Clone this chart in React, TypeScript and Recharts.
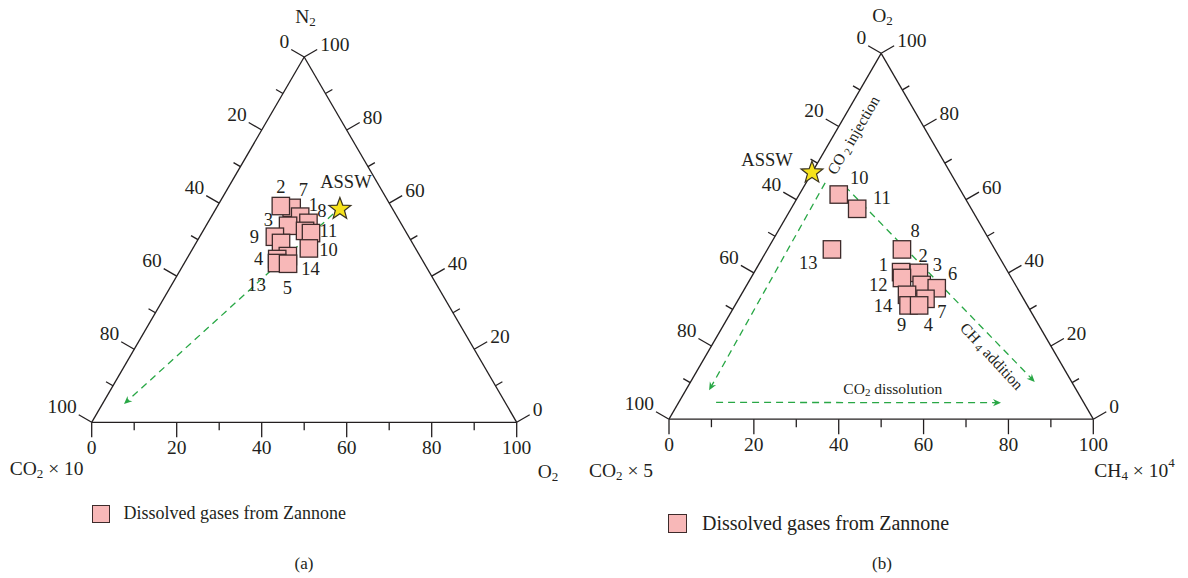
import React from 'react';
import { ScatterChart, Scatter, XAxis, YAxis, ReferenceLine, Legend } from 'recharts';

const INK = '#231f20';
const GREEN = '#28a745';
const PINK = '#f8b8b8';
const FONT = '"Liberation Serif", "DejaVu Serif", serif';
const SQ3 = Math.sqrt(3) / 2;

// (a) ternary CO2x10 / N2 / O2 (left, top, right vertex), percent
const labelsA = ['7', '2', '1', '8', '3', '12', '11', '9', '6', '10', '14', '4', '13', '5'];
const co2A = [23.6, 25.9, 22.8, 21.7, 26.9, 23.6, 22.5, 31.5, 30.9, 25.1, 31.1, 34.0, 34.6, 32.1];
const n2A = [58.7, 59.2, 56.3, 54.6, 53.8, 52.4, 51.8, 50.8, 49.1, 47.6, 45.5, 44.7, 43.6, 43.4];
const o2A = [17.7, 14.9, 20.9, 23.7, 19.3, 24.0, 25.7, 17.7, 20.0, 27.3, 23.4, 21.3, 21.8, 24.5];
const asswA = [12.4, 58.4, 29.2];
const trendA = [[14.7, 57.0, 28.3], [89.9, 5.0, 5.1]];

// (b) ternary CO2x5 / O2 / CH4x10^4
const labelsB = ['10', '11', '13', '8', '1', '2', '12', '3', '6', '9', '7', '14', '4'];
const co2B = [29.3, 26.9, 38.4, 21.9, 25.2, 21.1, 25.8, 22.1, 19.0, 26.9, 23.1, 28.0, 25.5];
const o2B = [61.4, 57.5, 46.4, 46.4, 40.2, 40.0, 38.6, 36.7, 35.8, 34.0, 32.9, 31.1, 31.1];
const ch4B = [9.3, 15.6, 15.2, 31.7, 34.6, 38.9, 35.6, 41.2, 45.2, 39.1, 44.0, 40.9, 43.4];
const asswB = [32.6, 67.4, 0];
const injectionB = [[30.9, 64.6, 4.5], [86.6, 7.9, 5.5]];
const ch4AdditionB = [[26.7, 63.7, 9.6], [8.7, 10.2, 81.1]];
const dissolutionB = [[86.6, 4.6, 8.8], [19.5, 4.5, 76.0]];

const scaleTicks = [0, 10, 20, 30, 40, 50, 60, 70, 80, 90, 100];

// label placement around each marker (px)
const offsetsA: Record<string, [number, number] | null> = {
  '2': [0, -19], '7': [11.6, -17.7], '1': [13.3, -11.7], '8': [13.4, -11.7], '3': [-19.7, -5.3],
  '11': [17.3, -2.3], '9': [-20.4, 0.5], '10': [19.6, 1.7], '4': [-18.7, 0], '13': [-20.3, 22],
  '14': [22.7, 13.3], '5': [-0.7, 24.6], '12': null, '6': null,
};
const offsetsB: Record<string, [number, number] | null> = {
  '10': [20.6, -17], '11': [24.7, -11], '13': [-23.7, 14], '8': [13.3, -18.3], '1': [-17.7, -7],
  '2': [4.3, -17], '3': [15.6, -20], '6': [16, -14.7], '12': [-23.7, 7], '7': [16.4, 13],
  '14': [-25.4, 0.7], '9': [-5.3, 30], '4': [9.3, 19.7],
};

function tern(l: number, t: number, r: number) {
  const s = l + t + r;
  const top = (t / s) * 100;
  const right = (r / s) * 100;
  return { x: right + top / 2, y: top * SQ3 };
}

const Square = (p: any) => (
  <rect x={p.cx - 8.7} y={p.cy - 8.7} width={17.4} height={17.4} fill={PINK} stroke="#3d2b2b" strokeWidth={1.3} />
);

const Star = (p: any) => {
  const pts: string[] = [];
  for (let i = 0; i < 10; i++) {
    const r = i % 2 === 0 ? 11.5 : 4.8;
    const a = -Math.PI / 2 + (i * Math.PI) / 5;
    pts.push(`${p.cx + r * Math.cos(a)},${p.cy + r * Math.sin(a)}`);
  }
  return <polygon points={pts.join(' ')} fill="#f6e21c" stroke="#3a3320" strokeWidth={1.2} />;
};

const ArrowLine = (p: any) => {
  const { x1, y1, x2, y2 } = p;
  const a = Math.atan2(y2 - y1, x2 - x1);
  const c = Math.cos(a);
  const s = Math.sin(a);
  const L = 8;
  const W = 3.6;
  const bx = x2 - L * c;
  const by = y2 - L * s;
  return (
    <g>
      <line x1={x1} y1={y1} x2={x2 - 5 * c} y2={y2 - 5 * s} stroke={GREEN} strokeWidth={1.3} strokeDasharray="7 5" />
      <path
        d={`M${x2},${y2} L${bx - W * s},${by + W * c} L${x2 - 5.5 * c},${y2 - 5.5 * s} L${bx + W * s},${by - W * c} Z`}
        fill={GREEN}
      />
    </g>
  );
};

const TickText = (p: any) => {
  const d = p.payload ?? p;
  let dx = 0;
  let dy = 10;
  let anchor = 'middle';
  if (d.side === 'left') {
    dx = -2;
    dy = -8;
    anchor = 'end';
  } else if (d.side === 'right') {
    dx = 3;
    dy = -5;
    anchor = 'start';
  }
  return (
    <text x={p.cx + dx} y={p.cy + dy} textAnchor={anchor} dominantBaseline="central" fontSize={19.5} fill={INK} fontFamily={FONT}>
      {d.text}
    </text>
  );
};

const PointText = (p: any) => {
  const d = p.payload ?? p;
  if (!d.off) return <g />;
  return (
    <text x={p.cx + d.off[0]} y={p.cy + d.off[1]} textAnchor="middle" dominantBaseline="central" fontSize={18.5} fill={INK} fontFamily={FONT}>
      {d.text}
    </text>
  );
};

const NoteText = (p: any) => {
  const d = p.payload ?? p;
  const x = p.cx + (d.dx ?? 0);
  const y = p.cy + (d.dy ?? 0);
  return (
    <text
      x={x}
      y={y}
      textAnchor={d.anchor ?? 'middle'}
      dominantBaseline="central"
      fontSize={d.size ?? 19.5}
      fill={INK}
      fontFamily={FONT}
      transform={d.rotate ? `rotate(${d.rotate} ${x} ${y})` : undefined}
    >
      {d.node}
    </text>
  );
};

function LegendBox({ size, font }: { size: number; font: number }) {
  return (
    <div style={{ display: 'flex', alignItems: 'center', fontFamily: FONT, fontSize: font, color: INK, whiteSpace: 'nowrap' }}>
      <span style={{ display: 'inline-block', width: size, height: size, background: PINK, border: '1.3px solid #3d2b2b', boxSizing: 'border-box', marginRight: font * 0.75 }} />
      Dissolved gases from Zannone
    </div>
  );
}

type PanelProps = {
  box: { left: number; width: number; height: number; x0: number; x1: number; yBase: number; yApex: number };
  points: { x: number; y: number; text: string; off: [number, number] | null }[];
  assw: { x: number; y: number };
  asswOff: [number, number];
  arrows: { x: number; y: number }[][];
  notes: any[];
  legendPos: { left: number; top: number; size: number; font: number };
};

function TernaryPanel({ box, points, assw, asswOff, arrows, notes, legendPos }: PanelProps) {
  const sx = (box.x1 - box.x0) / 100;
  const sy = (box.yBase - box.yApex) / (100 * SQ3);
  const xDomain = [-box.x0 / sx, (box.width - box.x0) / sx];
  const yDomain = [-(box.height - box.yBase) / sy, box.yBase / sy];

  const edges = [
    [{ x: 0, y: 0 }, { x: 100, y: 0 }],
    [{ x: 0, y: 0 }, { x: 50, y: 100 * SQ3 }],
    [{ x: 100, y: 0 }, { x: 50, y: 100 * SQ3 }],
  ];

  const ticks: { x: number; y: number }[][] = [];
  const tickLabels: { x: number; y: number; text: string; side: string }[] = [];
  scaleTicks.forEach((v) => {
    const major = v % 20 === 0;
    const len = major ? 15 : 8;
    // bottom
    const b0 = { x: v, y: 0 };
    const b1 = { x: v, y: -len / sy };
    // left side: value counted from apex (0) to lower-left (100)
    const lt = 100 - v;
    const l0 = { x: lt / 2, y: lt * SQ3 };
    const l1 = { x: l0.x - (SQ3 * len) / sx, y: l0.y + (0.5 * len) / sy };
    // right side: value counted from lower-right (0) to apex (100)
    const r0 = { x: 100 - v / 2, y: v * SQ3 };
    const r1 = { x: r0.x + (SQ3 * len) / sx, y: r0.y + (0.5 * len) / sy };
    ticks.push([b0, b1], [l0, l1], [r0, r1]);
    if (major) {
      tickLabels.push({ ...b1, text: String(v), side: 'bottom' });
      tickLabels.push({ ...l1, text: String(v), side: 'left' });
      tickLabels.push({ ...r1, text: String(v), side: 'right' });
    }
  });

  return (
    <div style={{ position: 'absolute', left: box.left, top: 0 }}>
      <ScatterChart width={box.width} height={box.height} margin={{ top: 0, right: 0, bottom: 0, left: 0 }}>
        <XAxis type="number" dataKey="x" domain={xDomain} allowDataOverflow hide />
        <YAxis type="number" dataKey="y" domain={yDomain} allowDataOverflow hide />
        {edges.map((seg, i) => (
          <ReferenceLine key={`e${i}`} segment={seg} stroke={INK} strokeWidth={1.3} ifOverflow="visible" />
        ))}
        {ticks.map((seg, i) => (
          <ReferenceLine key={`t${i}`} segment={seg} stroke={INK} strokeWidth={1.3} ifOverflow="visible" />
        ))}
        {arrows.map((seg, i) => (
          <ReferenceLine key={`a${i}`} segment={seg} ifOverflow="visible" shape={(p: any) => <ArrowLine {...p} />} />
        ))}
        <Scatter data={tickLabels} shape={TickText} isAnimationActive={false} legendType="none" />
        <Scatter data={notes} shape={NoteText} isAnimationActive={false} legendType="none" />
        <Scatter name="Dissolved gases from Zannone" data={points} shape={Square} isAnimationActive={false} />
        <Scatter data={points} shape={PointText} isAnimationActive={false} legendType="none" />
        <Scatter data={[assw]} shape={Star} isAnimationActive={false} legendType="none" />
        <Scatter data={[{ ...assw, text: 'ASSW', off: asswOff }]} shape={PointText} isAnimationActive={false} legendType="none" />
        <Legend
          layout="vertical"
          align="center"
          verticalAlign="middle"
          wrapperStyle={{ left: legendPos.left, top: legendPos.top, width: 'auto' }}
          content={() => <LegendBox size={legendPos.size} font={legendPos.font} />}
        />
      </ScatterChart>
    </div>
  );
}

const sub = (s: string, rest: string, size = 13) => [
  <tspan key="s" dy={5} fontSize={size}>{s}</tspan>,
  <tspan key="r" dy={-5}>{rest}</tspan>,
];

export default function App() {
  const boxA = { left: 0, width: 580, height: 578, x0: 91.7, x1: 516.7, yBase: 422.3, yApex: 57 };
  const boxB = { left: 580, width: 608, height: 578, x0: 89, x1: 513.3, yBase: 419.2, yApex: 53.3 };

  const pointsA = labelsA.map((id, i) => ({ ...tern(co2A[i], n2A[i], o2A[i]), text: id, off: offsetsA[id] }));
  const pointsB = labelsB.map((id, i) => ({ ...tern(co2B[i], o2B[i], ch4B[i]), text: id, off: offsetsB[id] }));

  const apex = { x: 50, y: 100 * SQ3 };
  const lowLeft = { x: 0, y: 0 };
  const lowRight = { x: 100, y: 0 };

  const notesA = [
    { ...apex, dx: -9, dy: -41, anchor: 'start', node: ['N', ...sub('2', '')] },
    { ...lowLeft, dx: -82, dy: 46, anchor: 'start', node: ['CO', ...sub('2', ' × 10')] },
    { ...lowRight, dx: 21, dy: 49, anchor: 'start', node: ['O', ...sub('2', '')] },
  ];
  const notesB = [
    { ...apex, dx: -9, dy: -38, anchor: 'start', node: ['O', ...sub('2', '')] },
    { ...lowLeft, dx: -80, dy: 51, anchor: 'start', node: ['CO', ...sub('2', ' × 5')] },
    {
      ...lowRight, dx: 1, dy: 51, anchor: 'start',
      node: ['CH', ...sub('4', ' × 10'), <tspan key="p" dy={-8} fontSize={13}>4</tspan>],
    },
    { ...tern(17.8, 77.7, 4.5), rotate: -60, size: 15.5, node: ['CO', <tspan key="s" dy={4} dx={3} fontSize={11}>2</tspan>, <tspan key="r" dy={-4}> injection</tspan>] },
    { ...tern(15.2, 17.3, 67.5), rotate: 47, size: 15.5, node: ['CH', <tspan key="s" dy={4} dx={3} fontSize={11}>4</tspan>, <tspan key="r" dy={-4}> addition</tspan>] },
    { ...tern(43.0, 8.5, 48.5), size: 15.5, node: ['CO', <tspan key="s" dy={4} fontSize={11}>2</tspan>, <tspan key="r" dy={-4}> dissolution</tspan>] },
  ];

  const seg = (pair: number[][]) => pair.map((p) => tern(p[0], p[1], p[2]));

  return (
    <div style={{ position: 'absolute', left: 0, top: 0, width: 1188, height: 578, background: '#fff', fontFamily: FONT, color: INK }}>
      <TernaryPanel
        box={boxA}
        points={pointsA}
        assw={tern(asswA[0], asswA[1], asswA[2])}
        asswOff={[6, -27]}
        arrows={[seg(trendA)]}
        notes={notesA}
        legendPos={{ left: 92, top: 503, size: 18, font: 18 }}
      />
      <TernaryPanel
        box={boxB}
        points={pointsB}
        assw={tern(asswB[0], asswB[1], asswB[2])}
        asswOff={[-45, -12.7]}
        arrows={[seg(injectionB), seg(ch4AdditionB), seg(dissolutionB)]}
        notes={notesB}
        legendPos={{ left: 88, top: 512, size: 19, font: 20 }}
      />
      <div style={{ position: 'absolute', left: 284, top: 554, width: 40, textAlign: 'center', fontSize: 17 }}>(a)</div>
      <div style={{ position: 'absolute', left: 862, top: 554, width: 40, textAlign: 'center', fontSize: 17 }}>(b)</div>
    </div>
  );
}
